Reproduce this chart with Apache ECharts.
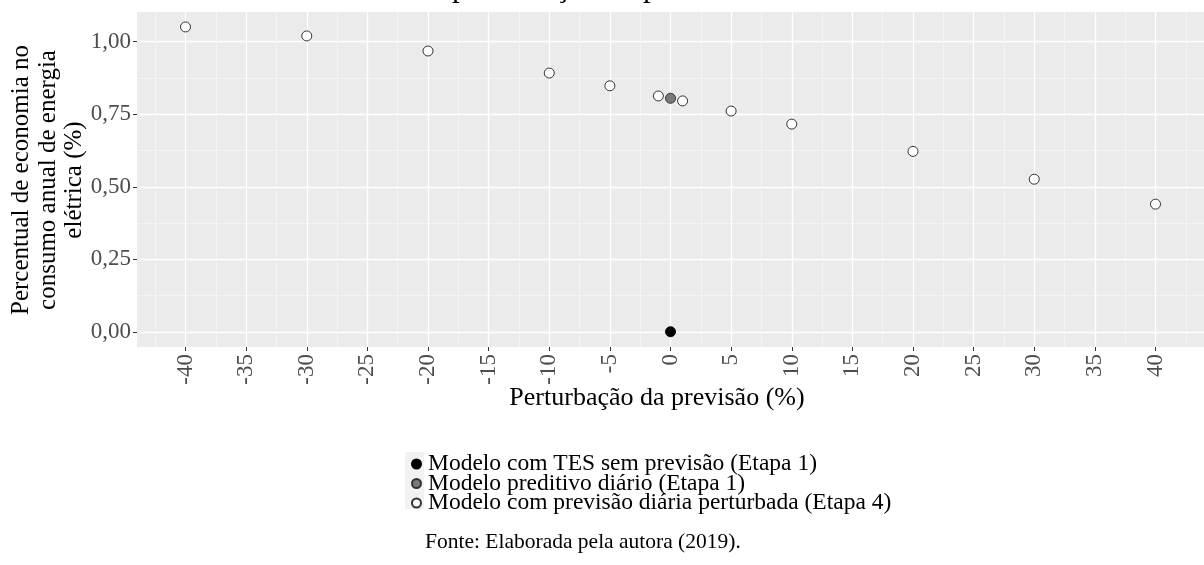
<!DOCTYPE html>
<html>
<head>
<meta charset="utf-8">
<script src="https://cdn.jsdelivr.net/npm/echarts@6/dist/echarts.min.js"></script>
<style>
html,body{margin:0;padding:0;background:#fff;}
#chart{width:1204px;height:565px;}
</style>
</head>
<body>
<div id="chart"></div>
<script>
// ---- data ----
var perturbacao = [-40, -30, -20, -10, -5, -1, 1, 5, 10, 20, 30, 40];
var economiaPerturbada = [1.051, 1.020, 0.968, 0.892, 0.848, 0.813, 0.796, 0.761, 0.716, 0.622, 0.526, 0.440];
var pontoTES = [[0, 0.0]];
var pontoPreditivo = [[0, 0.805]];
var xTicks = [-40, -35, -30, -25, -20, -15, -10, -5, 0, 5, 10, 15, 20, 25, 30, 35, 40];
var xMinor = [-42.5, -37.5, -32.5, -27.5, -22.5, -17.5, -12.5, -7.5, -2.5, 2.5, 7.5, 12.5, 17.5, 22.5, 27.5, 32.5, 37.5, 42.5];
var yTicks = [0, 0.25, 0.5, 0.75, 1.0];
var yMinor = [0.125, 0.375, 0.625, 0.875];
var seriesNames = ['Modelo com TES sem previsão (Etapa 1)', 'Modelo preditivo diário (Etapa 1)', 'Modelo com previsão diária perturbada (Etapa 4)'];
var xTitle = 'Perturbação da previsão (%)';
var yTitle = 'Percentual de economia no\nconsumo anual de energia\nelétrica (%)';
var caption = 'Fonte: Elaborada pela autora (2019).';
var topTitle = 'perturbação da previsão';

var FONT = '"Liberation Serif", "DejaVu Serif", serif';
var X_MIN = -44, X_MAX = 44, Y_MIN = -0.0525, Y_MAX = 1.1025;

var chart = echarts.init(document.getElementById('chart'), null, {renderer: 'canvas'});

function fmtY(v) { return v.toFixed(2).replace('.', ','); }

var option = {
  backgroundColor: '#ffffff',
  animation: false,
  textStyle: {fontFamily: FONT},
  grid: {left: 137, top: 12, right: -3, height: 335, show: true, backgroundColor: '#ebebeb', borderWidth: 0},
  xAxis: [
    {
      type: 'value', min: X_MIN, max: X_MAX, gridIndex: 0, position: 'bottom',
      axisLine: {show: false, onZero: false},
      axisTick: {show: true, length: 4, lineStyle: {color: '#333333', width: 1}, customValues: xTicks},
      axisLabel: {show: true, customValues: xTicks, rotate: 90, margin: 7, fontSize: 23, color: '#4d4d4d', fontFamily: FONT},
      splitLine: {show: true, lineStyle: {color: '#ffffff', width: 1.3}}
    },
    {
      type: 'value', min: X_MIN, max: X_MAX, gridIndex: 0, position: 'top',
      axisLine: {show: false, onZero: false},
      axisTick: {show: false, customValues: xMinor},
      axisLabel: {show: false},
      splitLine: {show: true, lineStyle: {color: '#f6f6f6', width: 0.8}}
    }
  ],
  yAxis: [
    {
      type: 'value', min: Y_MIN, max: Y_MAX, gridIndex: 0, position: 'left',
      axisLine: {show: false, onZero: false},
      axisTick: {show: true, length: 4, lineStyle: {color: '#333333', width: 1}, customValues: yTicks},
      axisLabel: {show: true, customValues: yTicks, margin: 6, fontSize: 23, color: '#4d4d4d', fontFamily: FONT, formatter: fmtY},
      splitLine: {show: true, lineStyle: {color: '#ffffff', width: 1.3}}
    },
    {
      type: 'value', min: Y_MIN, max: Y_MAX, gridIndex: 0, position: 'right',
      axisLine: {show: false, onZero: false},
      axisTick: {show: false, customValues: yMinor},
      axisLabel: {show: false},
      splitLine: {show: true, lineStyle: {color: '#f6f6f6', width: 0.8}}
    }
  ],
  legend: {
    orient: 'vertical', left: 411, top: 452, padding: 0, itemGap: -4.5, itemWidth: 9, itemHeight: 9, icon: 'circle',
    data: seriesNames,
    textStyle: {fontFamily: FONT, fontSize: 23.5, color: '#000', padding: [0, 0, 0, 2]}
  },
  graphic: [
    {type: 'text', x: 48, y: 180, rotation: Math.PI / 2,
     style: {text: yTitle, font: '25px ' + FONT, fill: '#000', align: 'center', verticalAlign: 'middle', lineHeight: 26.5}},
    {type: 'text', x: 657, y: 398,
     style: {text: xTitle, font: '26px ' + FONT, fill: '#000', align: 'center', verticalAlign: 'middle'}},
    {type: 'text', x: 425, y: 542,
     style: {text: caption, font: '21.5px ' + FONT, fill: '#000', align: 'left', verticalAlign: 'middle'}},
    {type: 'text', x: 452, y: 3,
     style: {text: topTitle, font: '31px ' + FONT, fill: '#000', align: 'left', verticalAlign: 'bottom'}},
    {type: 'rect', x: 405, y: 452, z: -1, shape: {width: 19, height: 57}, style: {fill: '#f2f2f2'}}
  ],
  series: [
    {
      name: seriesNames[0], type: 'scatter', xAxisIndex: 0, yAxisIndex: 0, symbolSize: 10, clip: false, z: 5,
      itemStyle: {color: '#000000', borderColor: '#000000', borderWidth: 1, opacity: 1},
      data: pontoTES
    },
    {
      name: seriesNames[1], type: 'scatter', xAxisIndex: 0, yAxisIndex: 0, symbolSize: 10, clip: false, z: 5,
      itemStyle: {color: '#7a7a7a', borderColor: '#333333', borderWidth: 1, opacity: 1},
      data: pontoPreditivo
    },
    {
      name: seriesNames[2], type: 'scatter', xAxisIndex: 0, yAxisIndex: 0, symbolSize: 10, clip: false, z: 5,
      itemStyle: {color: '#ffffff', borderColor: '#333333', borderWidth: 1, opacity: 1},
      data: perturbacao.map(function (x, i) { return [x, economiaPerturbada[i]]; })
    }
  ]
};
chart.setOption(option);
</script>
</body>
</html>
